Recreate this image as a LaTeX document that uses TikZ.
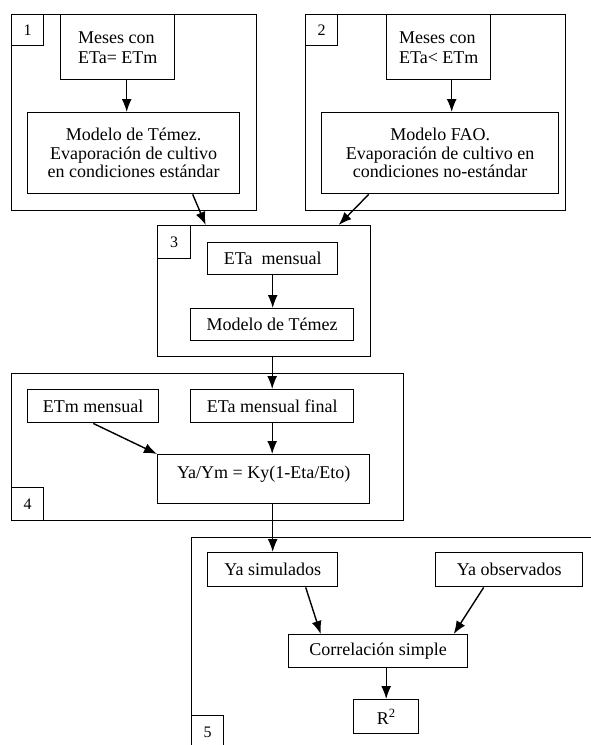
\documentclass[tikz,border=0pt]{standalone}
\usepackage{fontspec}
\setmainfont{Liberation Serif}
\usetikzlibrary{arrows.meta}

\begin{document}
\begin{tikzpicture}[->,>={Latex[length=13pt,width=10pt]},x=1pt,y=-1pt,line width=1.4pt,
    grupo/.style={draw, rectangle, inner sep=0pt, anchor=north west},
    caja/.style={draw, rectangle, inner sep=0pt, anchor=north west, fill=white, align=center, font=\fontsize{18}{18.5}\selectfont},
    num/.style={draw, rectangle, inner sep=0pt, anchor=north west, fill=white, font=\fontsize{16}{18}\selectfont},]
                    \useasboundingbox (0,0) rectangle (591,745);
                    \clip (0,0) rectangle (591,745);

                    \node [grupo, minimum width=245pt, minimum height=196pt](bloque1) at (11,14) {};
                    \node [grupo, minimum width=260pt, minimum height=196pt](bloque2) at (305,14) {};
                    \node [grupo, minimum width=213pt, minimum height=131pt](bloque3) at (157,225) {};
                    \node [grupo, minimum width=392pt, minimum height=147pt](bloque4) at (11,373) {};
                    \node [grupo, minimum width=420pt, minimum height=240pt](bloque5) at (191,537) {};

                    \node [num, minimum width=32pt, minimum height=31pt](n1) at (11,14) {1};
                    \node [num, minimum width=32pt, minimum height=31pt](n2) at (305,14) {2};
                    \node [num, minimum width=33pt, minimum height=33pt](n3) at (157,225) {3};
                    \node [num, minimum width=32pt, minimum height=33pt](n4) at (11,487) {4};
                    \node [num, minimum width=32pt, minimum height=33pt](n5) at (191,715) {5};

                    \node [caja, align=left, minimum width=114pt, minimum height=65pt](meses1) at (60,14) {Meses con\\[1.5pt]ETa= ETm};
                    \node [caja, minimum width=212pt, minimum height=81pt](modelo1) at (27,112) {Modelo de Témez.\\Evaporación de cultivo\\en condiciones estándar};
                    \node [caja, align=left, minimum width=104pt, minimum height=65pt](meses2) at (386,14) {Meses con\\[1.5pt]ETa< ETm};
                    \node [caja, minimum width=237pt, minimum height=81pt](modelo2) at (321,112) {Modelo FAO.\\Evaporación de cultivo en\\condiciones no-estándar};

                    \node [caja, minimum width=130pt, minimum height=32pt](etames) at (207,242) {ETa\ \ mensual};
                    \node [caja, minimum width=163pt, minimum height=32pt](temez) at (190,308) {Modelo de Témez};

                    \node [caja, minimum width=131pt, minimum height=33pt](etmmes) at (27,389) {ETm mensual};
                    \node [caja, minimum width=163pt, minimum height=33pt](etafinal) at (190,389) {ETa mensual final};
                    \node [caja, minimum width=212pt, minimum height=49pt, text depth=13pt](ecuacion) at (157,454) {Ya/Ym = Ky(1-Eta/Eto)};

                    \node [caja, minimum width=130pt, minimum height=34pt](yasim) at (207,552) {Ya simulados};
                    \node [caja, minimum width=147pt, minimum height=34pt](yaobs) at (435,552) {Ya observados};
                    \node [caja, minimum width=179pt, minimum height=33pt](correl) at (288,634) {Correlación simple};
                    \node [caja, minimum width=65pt, minimum height=34pt](r2) at (353,699) {R\textsuperscript{2}};

                    \path
                        ([xshift=9pt]meses1.south) edge ([xshift=9pt]meses1.south |- modelo1.north)
                        ([xshift=13pt]meses2.south) edge ([xshift=13pt]meses2.south |- modelo2.north)
                        ([xshift=59pt]modelo1.south) edge ([xshift=-58.5pt]bloque3.north)
                        ([xshift=-71.5pt]modelo2.south) edge ([xshift=74.5pt]bloque3.north)
                        (etames.south) edge (etames.south |- temez.north)
                        (etafinal.north |- bloque3.south) edge (etafinal.north)
                        (etafinal.south) edge (etafinal.south |- ecuacion.north)
                        (etmmes.south) edge (ecuacion.north west)
                        (yasim.north |- ecuacion.south) edge (yasim.north)
                        ([xshift=33pt]yasim.south) edge ([xshift=-57.5pt]correl.north)
                        ([xshift=-25.5pt]yaobs.south) edge ([xshift=75.5pt]correl.north)
                        (r2.north |- correl.south) edge (r2.north)
                    ;
                \end{tikzpicture}
\end{document}
